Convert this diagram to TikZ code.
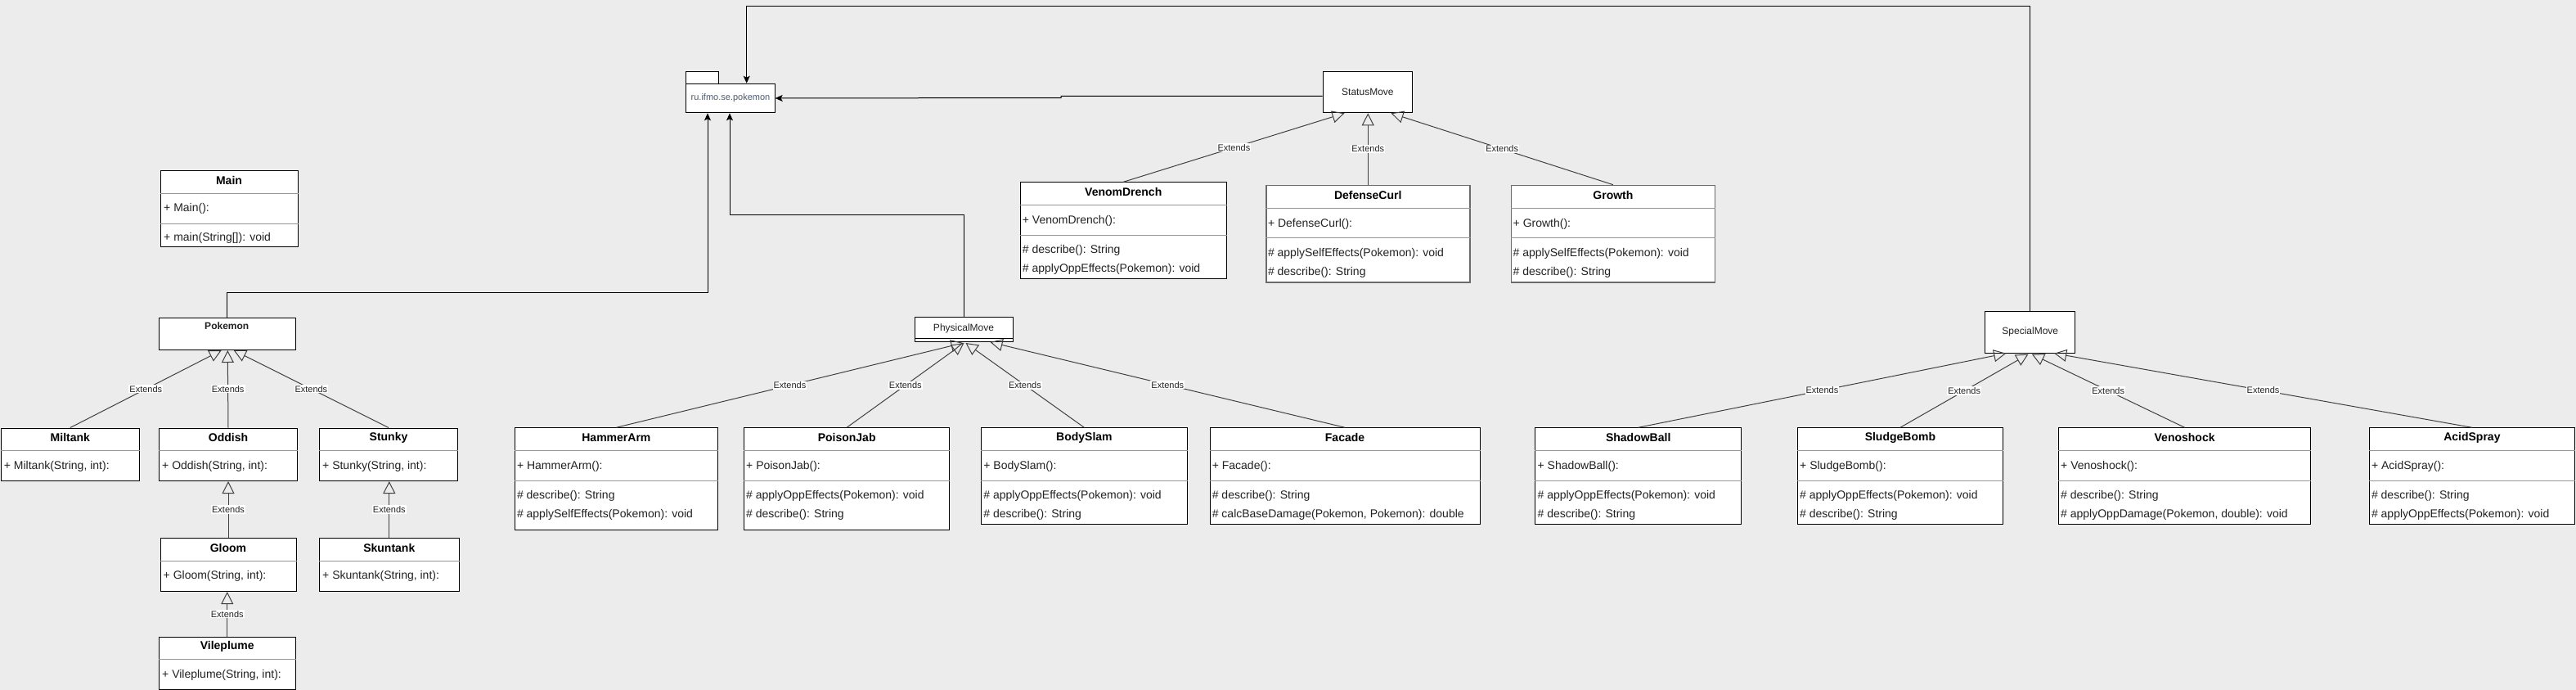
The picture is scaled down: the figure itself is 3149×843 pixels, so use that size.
\documentclass[tikz,border=0pt]{standalone}
\usepackage{fontspec}
\setmainfont{Liberation Sans}
\usetikzlibrary{arrows.meta,calc}
\definecolor{bg}{RGB}{236,236,236}
\definecolor{divc}{RGB}{150,150,150}
\definecolor{edgec}{RGB}{64,64,64}
\definecolor{pkgtext}{RGB}{74,90,110}
\definecolor{txt}{RGB}{34,34,34}

% move class box: name, x, y, w, h, title, attr, m1, m2
\newcommand{\movebox}[9]{%
  \node[mbox, minimum width=#4pt, minimum height=#5pt] (#1) at (#2,#3) {};
  \node[ttl] (#1-t) at ($(#1.north)+(0,12.5)$) {#6};
  \draw[div] ($(#1.north west)+(0,28.3)$) -- ($(#1.north east)+(0,28.3)$);
  \node[attr] (#1-a) at ($(#1.north west)+(3,47.7)$) {#7};
  \draw[div] ($(#1.north west)+(0,65)$) -- ($(#1.north east)+(0,65)$);
  \node[attr] (#1-m1) at ($(#1.north west)+(3,84)$) {#8};
  \node[attr] (#1-m2) at ($(#1.north west)+(3,107)$) {#9};
}
% small class box: name, x, y, w, h, title, attr
\newcommand{\fambox}[7]{%
  \node[box, minimum width=#4pt, minimum height=#5pt] (#1) at (#2,#3) {};
  \node[ttl] (#1-t) at ($(#1.north)+(0,12)$) {#6};
  \draw[div] ($(#1.north west)+(0,28)$) -- ($(#1.north east)+(0,28)$);
  \node[attr] (#1-a) at ($(#1.north west)+(4,47)$) {#7};
}

\begin{document}
\begin{tikzpicture}[x=1pt,y=-1pt,
  box/.style={draw=black,line width=1pt,fill=white,inner sep=0pt,anchor=north west},
  graybox/.style={box,draw=black!58,line width=1.7pt},
  mbox/.style={box},
  ttl/.style={font=\fontsize{14}{16}\selectfont\bfseries,inner sep=0pt,anchor=center},
  plain/.style={font=\fontsize{12}{14}\selectfont,text=txt,inner sep=0pt,anchor=center},
  attr/.style={font=\fontsize{14}{16}\selectfont,text=txt,inner sep=0pt,anchor=west},
  div/.style={draw=divc,line width=0.9pt},
  ext/.style={draw=edgec,line width=1pt,-{Triangle[open,length=15pt,width=15pt,line width=1pt]}},
  dep/.style={draw=black,line width=1pt,-{Stealth[length=9pt,width=8pt,inset=2pt]}},
  lbl/.style={font=\fontsize{11}{12}\selectfont,fill=white,inner sep=1pt,text=txt},
  ]
\fill[bg] (0,0) rectangle (3149,843);
\useasboundingbox (0,0) rectangle (3149,843);

% package
\node[box, minimum width=40pt, minimum height=14.4pt] (pkgtab) at (838.3,87.3) {};
\node[box, minimum width=108.4pt, minimum height=35.6pt] (pkg) at (838.3,101.7) {};
\node[font=\fontsize{11}{12}\selectfont,text=pkgtext,inner sep=0pt] (pkg-t) at (pkg.center) {ru.ifmo.se.pokemon};

% Main
\node[box, minimum width=168pt, minimum height=92.5pt] (main) at (196,208) {};
\node[ttl] (main-t) at (280,220) {Main};
\draw[div] (main.west |- 0,236) -- (main.east |- 0,236);
\node[attr] (main-a) at (200,255) {+ Main():};
\draw[div] (main.west |- 0,273) -- (main.east |- 0,273);
\node[attr] (main-m) at (200,291) {+ main(String[]): void};

% Pokemon family
\node[box, minimum width=166.5pt, minimum height=39.4pt] (pokemon) at (194,387.6) {};
\node[font=\fontsize{12}{14}\selectfont\bfseries,text=txt,inner sep=0pt] (pokemon-t) at (277.25,398) {Pokemon};
\fambox{miltank}{0.7}{522.5}{169.3}{64.5}{Miltank}{+ Miltank(String, int):}
\fambox{oddish}{194}{522.5}{169}{64.5}{Oddish}{+ Oddish(String, int):}
\fambox{stunky}{390}{522.5}{169}{64.5}{Stunky}{+ Stunky(String, int):}
\fambox{gloom}{195.5}{657}{166}{65}{Gloom}{+ Gloom(String, int):}
\fambox{skuntank}{390}{657}{170.6}{65}{Skuntank}{+ Skuntank(String, int):}
\fambox{vileplume}{194}{777.5}{166.5}{64}{Vileplume}{+ Vileplume(String, int):}

% abstract moves
\node[box, minimum width=109.8pt, minimum height=50pt] (statusmove) at (1616.5,87.3) {};
\node[plain] (statusmove-t) at (statusmove.center) {StatusMove};
\node[box, minimum width=120pt, minimum height=30pt] (physical) at (1118,387) {};
\node[plain] (physical-t) at (1178,401) {PhysicalMove};
\draw[line width=1pt] (physical.west |- 0,413) -- (physical.east |- 0,413);
\node[box, minimum width=110pt, minimum height=50.7pt] (specialmove) at (2426.3,380) {};
\node[plain] (specialmove-t) at (specialmove.center) {SpecialMove};

% status moves
\movebox{venomdrench}{1246.7}{222.3}{252.1}{117.7}{VenomDrench}{+ VenomDrench():}{\# describe(): String}{\# applyOppEffects(Pokemon): void}
\tikzset{mbox/.style={graybox}}
\movebox{defensecurl}{1546.8}{225.7}{249.2}{118.3}{DefenseCurl}{+ DefenseCurl():}{\# applySelfEffects(Pokemon): void}{\# describe(): String}
\movebox{growth}{1846.5}{225.7}{249.1}{118.3}{Growth}{+ Growth():}{\# applySelfEffects(Pokemon): void}{\# describe(): String}
\tikzset{mbox/.style={box}}

% physical moves
\movebox{hammerarm}{628.8}{522.3}{248.2}{125}{HammerArm}{+ HammerArm():}{\# describe(): String}{\# applySelfEffects(Pokemon): void}
\movebox{poisonjab}{909}{522.3}{251.3}{125}{PoisonJab}{+ PoisonJab():}{\# applyOppEffects(Pokemon): void}{\# describe(): String}
\movebox{bodyslam}{1199.2}{522.3}{251.4}{117.7}{BodySlam}{+ BodySlam():}{\# applyOppEffects(Pokemon): void}{\# describe(): String}
\movebox{facade}{1478.6}{522.3}{329.9}{117.7}{Facade}{+ Facade():}{\# describe(): String}{\# calcBaseDamage(Pokemon, Pokemon): double}

% special moves
\movebox{shadowball}{1876.4}{522.3}{251.6}{117.7}{ShadowBall}{+ ShadowBall():}{\# applyOppEffects(Pokemon): void}{\# describe(): String}
\movebox{sludgebomb}{2197}{522.3}{250.8}{117.7}{SludgeBomb}{+ SludgeBomb():}{\# applyOppEffects(Pokemon): void}{\# describe(): String}
\movebox{venoshock}{2516}{522.3}{308.2}{117.7}{Venoshock}{+ Venoshock():}{\# describe(): String}{\# applyOppDamage(Pokemon, double): void}
\movebox{acidspray}{2895.8}{522.3}{251.2}{117.7}{AcidSpray}{+ AcidSpray():}{\# describe(): String}{\# applyOppEffects(Pokemon): void}

% extends connectors
\draw[ext] (miltank.north) -- node[lbl]{Extends} ($(pokemon.south)+(-7,0)$);
\draw[ext] (oddish.north) -- node[lbl]{Extends} ($(pokemon.south)+(0.5,0)$);
\draw[ext] (stunky.north) -- node[lbl]{Extends} ($(pokemon.south)+(8,0)$);
\draw[ext] (gloom.north) -- node[lbl]{Extends} (gloom.north |- oddish.south);
\draw[ext] (skuntank.north) -- node[lbl]{Extends} (skuntank.north |- stunky.south);
\draw[ext] (vileplume.north) -- node[lbl]{Extends} (vileplume.north |- gloom.south);

\draw[ext] (venomdrench.north) -- node[lbl]{Extends} ($(statusmove.south)+(-28.4,0)$);
\draw[ext] (defensecurl.north) -- node[lbl]{Extends} (defensecurl.north |- statusmove.south);
\draw[ext] (growth.north) -- node[lbl]{Extends} ($(statusmove.south)+(28.6,0)$);

\draw[ext] (hammerarm.north) -- node[lbl]{Extends} ($(physical.south)+(-1,1)$);
\draw[ext] (poisonjab.north) -- node[lbl]{Extends} ($(physical.south)+(0,1)$);
\draw[ext] (bodyslam.north) -- node[lbl]{Extends} ($(physical.south)+(2,1)$);
\draw[ext] (facade.north) -- node[lbl]{Extends} ($(physical.south)+(32,0)$);

\draw[ext] (shadowball.north) -- node[lbl]{Extends} ($(specialmove.south)+(-29.6,0)$);
\draw[ext] (sludgebomb.north) -- node[lbl]{Extends} ($(specialmove.south)+(-2.3,1)$);
\draw[ext] (venoshock.north) -- node[lbl]{Extends} ($(specialmove.south)+(2,1)$);
\draw[ext] (acidspray.north) -- node[lbl]{Extends} ($(specialmove.south)+(29.4,0)$);

% dependency connectors to package
\coordinate (j1) at (865,357.6);
\draw[dep] (pokemon.north) |- (j1) -- (j1 |- pkg.south);
\coordinate (j2) at (892,262.3);
\draw[dep] (physical.north) |- (j2) -- (j2 |- pkg.south);
\coordinate (j3) at (1297,117.3);
\coordinate (j4) at (1297,119.5);
\draw[dep] (statusmove.west |- j3) -- (j3) -- (j4) -- (pkg.east);
\coordinate (j5) at (912.7,7.3);
\draw[dep] (specialmove.north) |- (j5) -- (j5 |- pkg.north);
\end{tikzpicture}
\end{document}
